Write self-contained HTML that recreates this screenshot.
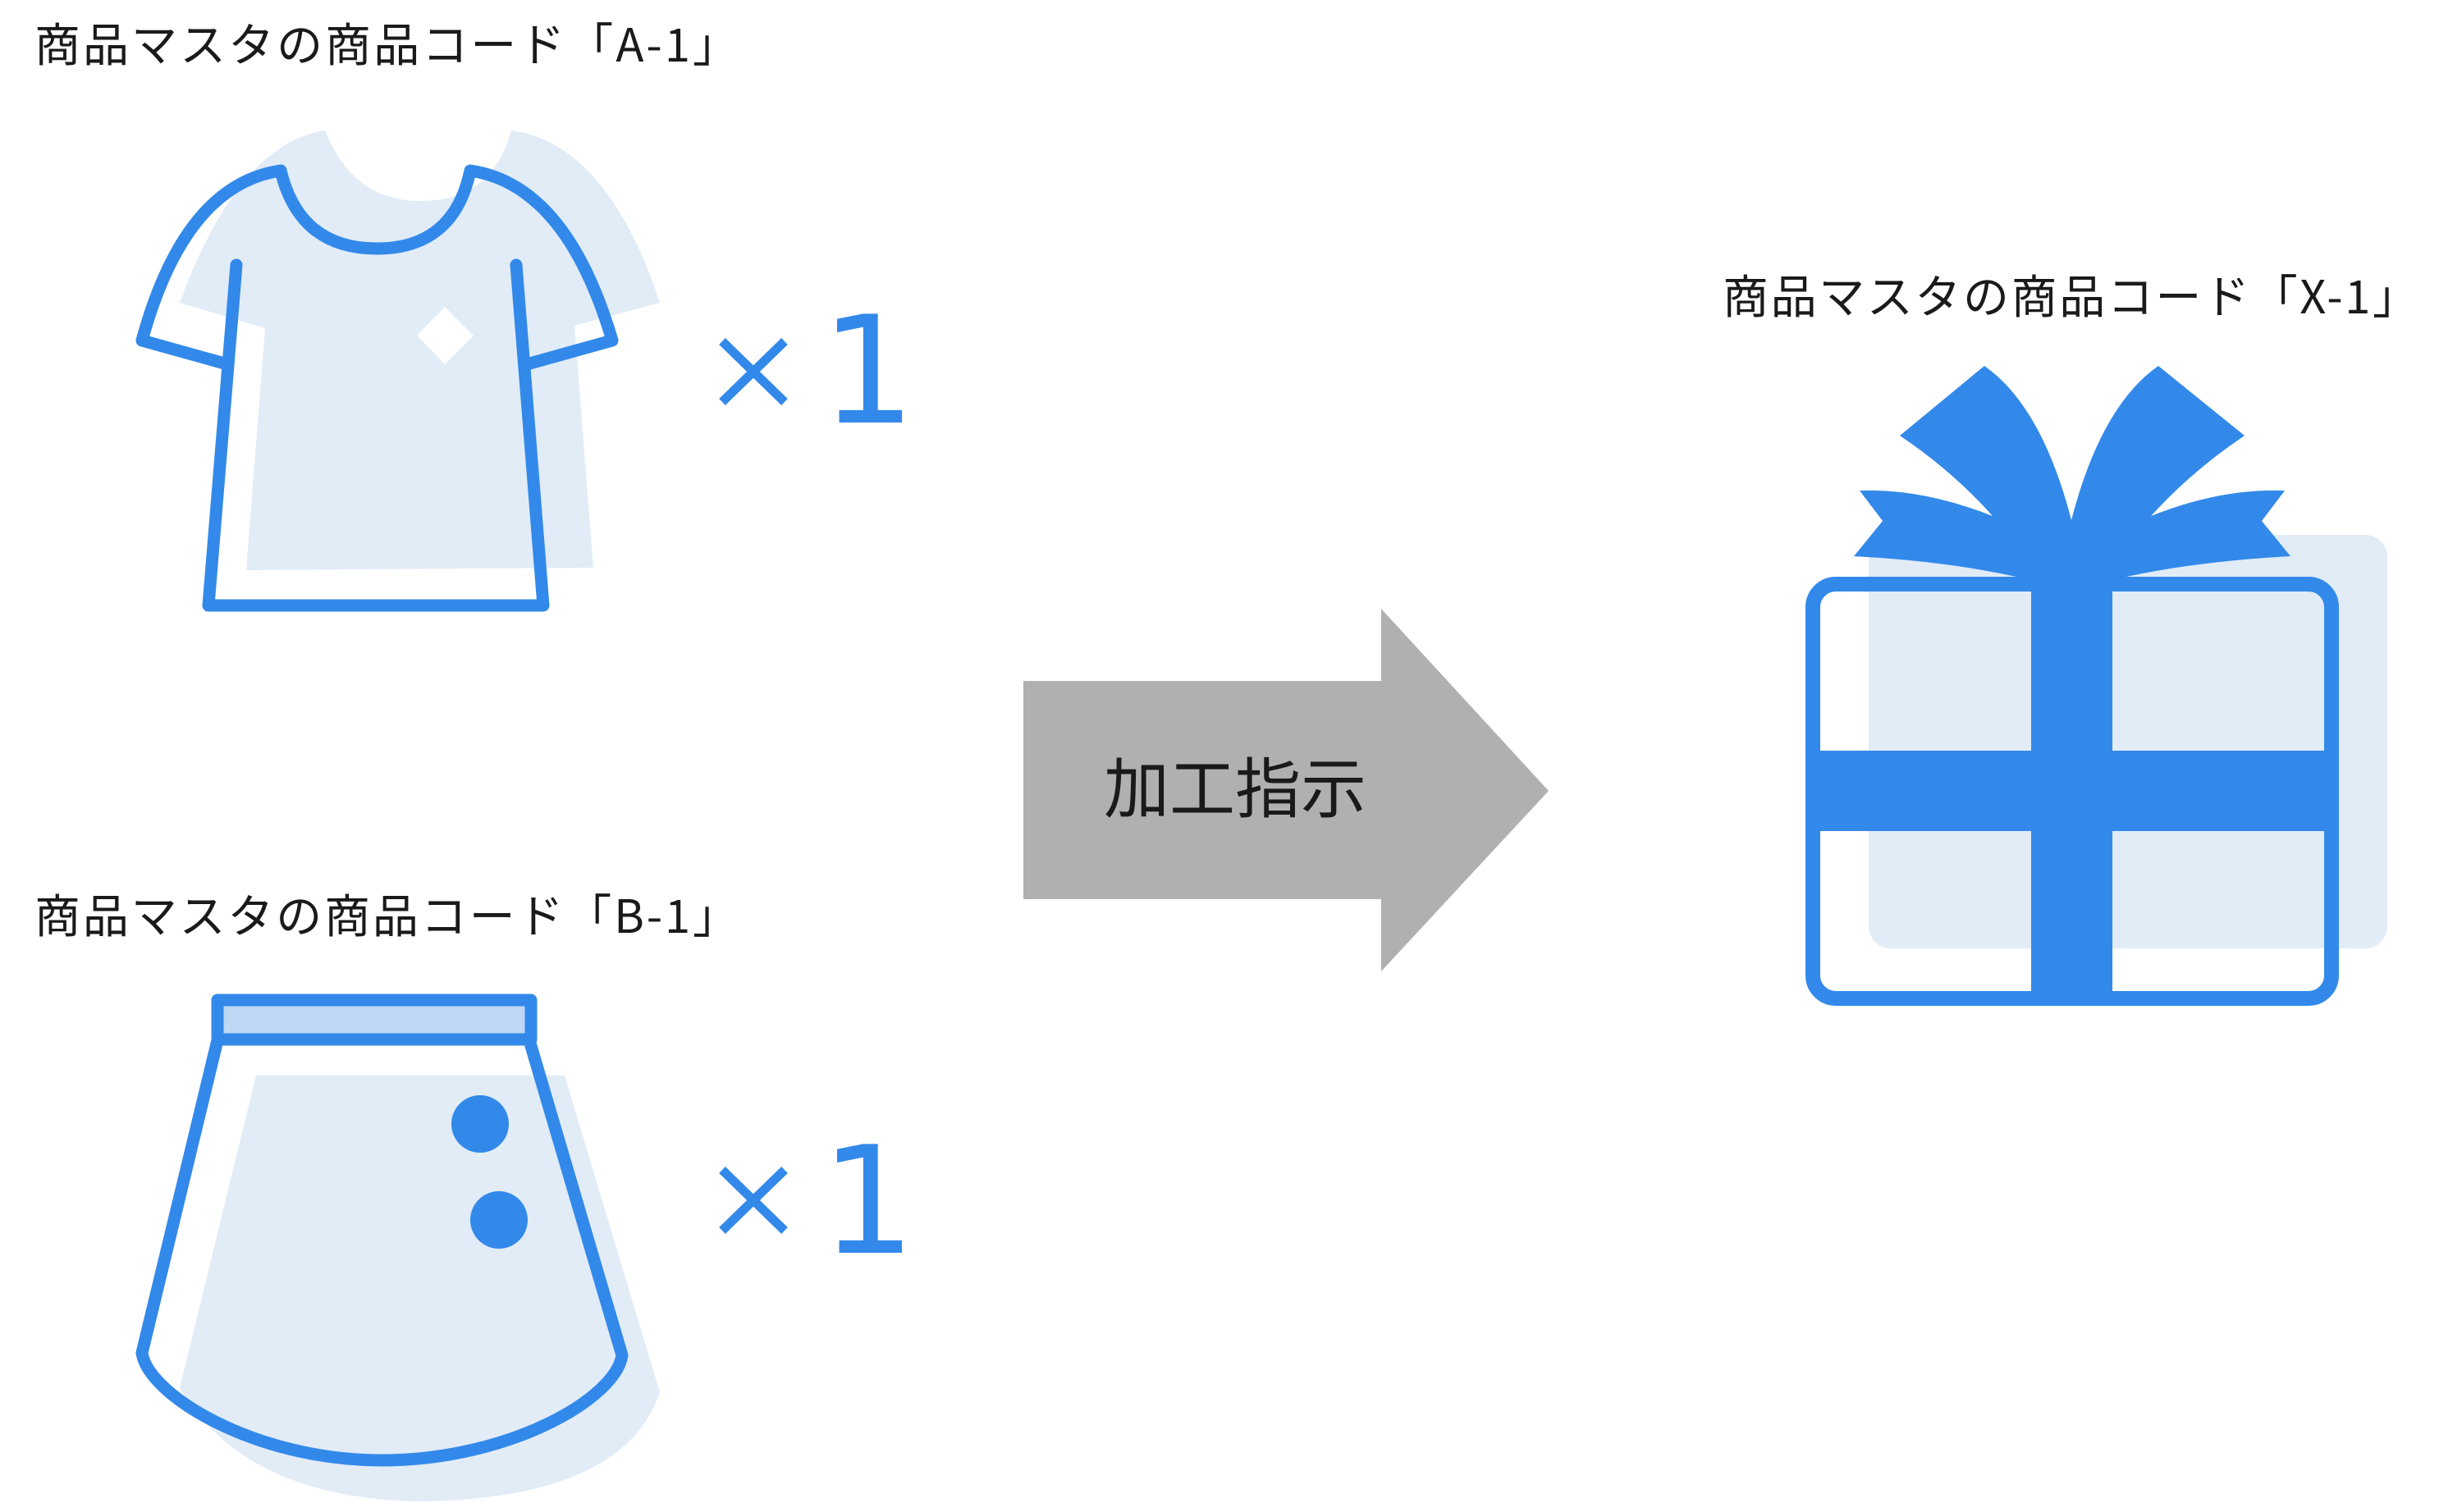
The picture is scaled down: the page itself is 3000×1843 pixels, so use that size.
<!DOCTYPE html>
<html><head><meta charset="utf-8"><style>
html,body{margin:0;padding:0;background:#fff;}
svg{display:block;}
.lbl{font-family:"Noto Sans CJK JP",sans-serif;font-size:56px;fill:#1a1a1a;}
.num{font-family:"DejaVu Sans",sans-serif;fill:#3389EA;}
</style></head><body>
<svg width="3000" height="1843" viewBox="0 0 3000 1843" xmlns="http://www.w3.org/2000/svg">
<text class="lbl" x="42" y="75" textLength="858" lengthAdjust="spacing">商品マスタの商品コード「A-1」</text>
<text class="lbl" x="42" y="1137" textLength="858" lengthAdjust="spacing">商品マスタの商品コード「B-1」</text>
<text class="lbl" x="2099" y="382" textLength="848" lengthAdjust="spacing">商品マスタの商品コード「X-1」</text>

<path d="M396,159 Q430,245 512,245 Q600,245 623,159 Q740,175 804,369 L700,397 L723,692 L300,695 L323,400 L219,369 Q290,175 396,159 Z" fill="#E1ECF7"/>
<path d="M542,374 L577,409 L542,444 L508,409 Z" fill="#fff"/>
<g fill="none" stroke="#3389EA" stroke-width="15" stroke-linecap="round" stroke-linejoin="round">
<path d="M342,208 Q365,303 459,303 Q553,303 573,208 Q690,225 746,415 L642,444"/>
<path d="M342,208 Q225,225 173,415 L277,444"/>
<path d="M288,323 L254,738 L662,738 L629,323"/>
</g>
<g stroke="#3389EA" stroke-width="11">
<line x1="880" y1="416" x2="956" y2="490"/><line x1="956" y1="416" x2="880" y2="490"/>
<line x1="880" y1="1426" x2="956" y2="1500"/><line x1="956" y1="1426" x2="880" y2="1500"/>
</g>
<text class="num" x="1000" y="515" font-size="182">1</text>

<path d="M312,1311 L688,1311 L804,1697 Q760,1827 512,1830 Q300,1827 219,1692 Z" fill="#E1ECF7"/>
<g fill="none" stroke="#3389EA" stroke-width="15" stroke-linejoin="round" stroke-linecap="round">
<rect x="265" y="1219" width="382" height="48" fill="#BDD7F5"/>
<path d="M265,1268 L173,1649 C180,1700 310,1780 465,1780 C620,1780 750,1705 758,1652 L645,1268"/>
</g>
<circle cx="585" cy="1370" r="35" fill="#3389EA"/>
<circle cx="608" cy="1487" r="35" fill="#3389EA"/>
<text class="num" x="1000" y="1527" font-size="182">1</text>

<path d="M1247,830 L1683,830 L1683,742 L1887,964 L1683,1184 L1683,1096 L1247,1096 Z" fill="#B0B0B0"/>
<text x="1505" y="990" text-anchor="middle" font-family="'Noto Sans CJK JP',sans-serif" font-size="80" fill="#1a1a1a">加工指示</text>

<rect x="2277" y="652" width="632" height="504" rx="27" fill="#E1ECF7"/>
<rect x="2209" y="712" width="632" height="505" rx="28" fill="none" stroke="#3389EA" stroke-width="18"/>
<rect x="2475" y="703" width="99" height="523" fill="#3389EA"/>
<rect x="2200" y="915" width="650" height="98" fill="#3389EA"/>
<path d="M2259,678 L2294,635 L2266,598 Q2342,595 2428,629 Q2379,574 2315,531 L2418,446 Q2488,495 2524,634 Q2560,495 2630,446 L2735,531 Q2671,574 2621,629 Q2706,595 2784,598 L2756,635 L2791,678 Q2680,684 2591,703 L2457,703 Q2370,684 2259,678 Z" fill="#3389EA"/>
</svg>
</body></html>
